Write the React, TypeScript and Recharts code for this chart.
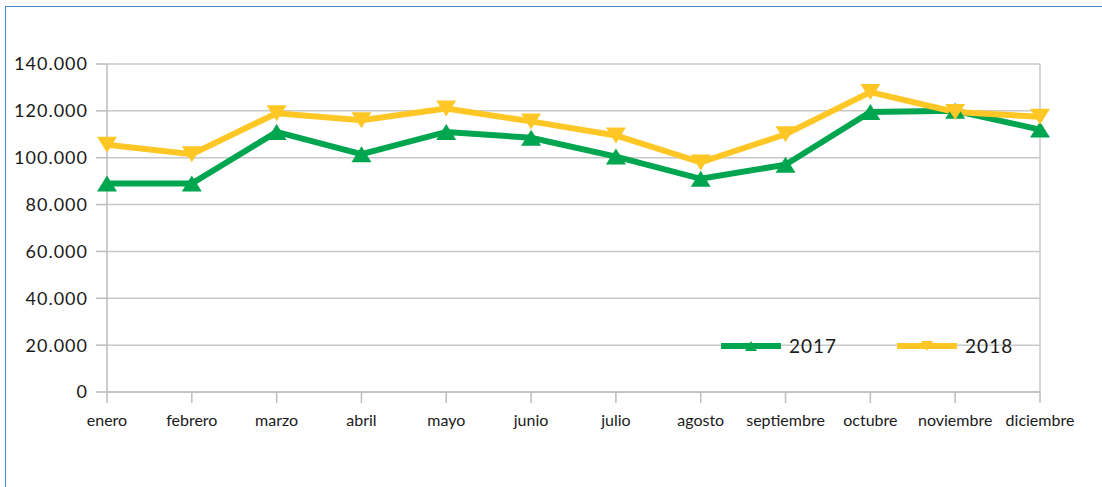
import { CartesianGrid, Legend, Line, LineChart, ReferenceLine, XAxis, YAxis } from "recharts";

const MONTHS = [
  "enero",
  "febrero",
  "marzo",
  "abril",
  "mayo",
  "junio",
  "julio",
  "agosto",
  "septiembre",
  "octubre",
  "noviembre",
  "diciembre",
];
const Y2017 = [89000, 89000, 111000, 101500, 111000, 108500, 100500, 91000, 97000, 119500, 120000, 112000];
const Y2018 = [105500, 101500, 119000, 116000, 121000, 115500, 109500, 98000, 110000, 128000, 119500, 117500];
const Y_TICKS = [0, 20000, 40000, 60000, 80000, 100000, 120000, 140000];

const GREEN = "#00a54f";
const YELLOW = "#ffc726";
const FONT = "Lato, 'Open Sans', sans-serif";

const data = MONTHS.map((m, i) => ({ month: m, y2017: Y2017[i], y2018: Y2018[i] }));

const fmt = (v: number) => (v === 0 ? "0" : `${v / 1000}.000`);

function Tri({ cx, cy, color, down, w = 10, h = 8 }: { cx?: number; cy?: number; color: string; down?: boolean; w?: number; h?: number }) {
  if (cx == null || cy == null) return null;
  const pts = down
    ? `${cx - w},${cy - h} ${cx + w},${cy - h} ${cx},${cy + h}`
    : `${cx - w},${cy + h} ${cx + w},${cy + h} ${cx},${cy - h}`;
  return <polygon points={pts} fill={color} />;
}

function LegendItem({ color, label, down }: { color: string; label: string; down?: boolean }) {
  return (
    <div style={{ display: "flex", alignItems: "center", marginRight: 60 }}>
      <svg width={62} height={20}>
        <line x1={0} y1={10} x2={60} y2={10} stroke={color} strokeWidth={6} />
        <Tri cx={30} cy={10} color={color} down={down} w={6} h={5} />
      </svg>
      <span style={{ marginLeft: 6, fontSize: 19, letterSpacing: 1, color: "#1a1a1a" }}>{label}</span>
    </div>
  );
}

export default function App() {
  return (
    <div style={{ position: "absolute", left: 0, top: 0, width: 1102, height: 487, background: "#fff", fontFamily: FONT }}>
      <div
        style={{
          position: "absolute",
          left: 5,
          top: 6,
          right: 0,
          bottom: 0,
          borderTop: "1.5px solid #4a8ac4",
          borderLeft: "1.5px solid #4a8ac4",
        }}
      />
      <LineChart
        width={1102}
        height={487}
        data={data}
        margin={{ top: 64, right: 62, left: 0, bottom: 60 }}
        style={{ position: "absolute", left: 0, top: 0 }}
      >
        <CartesianGrid vertical={false} stroke="#c8c8c8" strokeWidth={1.5} />
        <XAxis
          dataKey="month"
          stroke="#bdbdbd"
          strokeWidth={1.5}
          tickSize={11}
          tickMargin={12}
          height={35}
          interval={0}
          tick={{ fontSize: 16, fill: "#1a1a1a", fontFamily: FONT }}
        />
        <YAxis
          domain={[0, 140000]}
          ticks={Y_TICKS}
          tickFormatter={fmt}
          width={107}
          stroke="#bdbdbd"
          strokeWidth={1.5}
          tickSize={11}
          tickMargin={8}
          tick={{ fontSize: 18, fill: "#1a1a1a", fontFamily: FONT, letterSpacing: 1 }}
        />
        <ReferenceLine x="diciembre" stroke="#c8c8c8" strokeWidth={1.5} />
        <Legend
          layout="horizontal"
          verticalAlign="middle"
          align="center"
          wrapperStyle={{ left: 721, top: 334, width: 360, height: 22 }}
          content={() => (
            <div style={{ display: "flex", fontFamily: FONT }}>
              <LegendItem color={GREEN} label="2017" />
              <LegendItem color={YELLOW} label="2018" down />
            </div>
          )}
        />
        <Line
          dataKey="y2017"
          name="2017"
          stroke={GREEN}
          strokeWidth={6}
          dot={(p: any) => <Tri key={`a${p.index}`} cx={p.cx} cy={p.cy} color={GREEN} />}
          activeDot={false}
          isAnimationActive={false}
        />
        <Line
          dataKey="y2018"
          name="2018"
          stroke={YELLOW}
          strokeWidth={6}
          dot={(p: any) => <Tri key={`b${p.index}`} cx={p.cx} cy={p.cy} color={YELLOW} down />}
          activeDot={false}
          isAnimationActive={false}
        />
      </LineChart>
    </div>
  );
}
